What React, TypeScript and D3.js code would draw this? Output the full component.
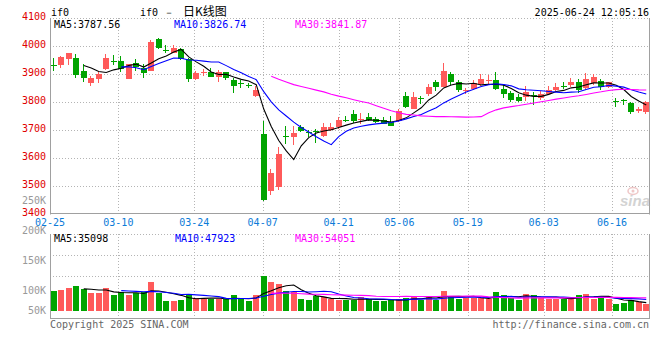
import React from 'react';
import * as d3 from 'd3';

// trading days shown (02-25 .. 06-23)
const dates = [
  '02-25', '02-26', '02-27', '02-28',
  '03-03', '03-04', '03-05', '03-06', '03-07', '03-10', '03-11', '03-12', '03-13', '03-14',
  '03-17', '03-18', '03-19', '03-20', '03-21', '03-24', '03-25', '03-26', '03-27', '03-28', '03-31',
  '04-01', '04-02', '04-03', '04-07', '04-08', '04-09', '04-10', '04-11', '04-14', '04-15', '04-16',
  '04-17', '04-18', '04-21', '04-22', '04-23', '04-24', '04-25', '04-28', '04-29', '04-30',
  '05-06', '05-07', '05-08', '05-09', '05-12', '05-13', '05-14', '05-15', '05-16', '05-19', '05-20',
  '05-21', '05-22', '05-23', '05-26', '05-27', '05-28', '05-29', '05-30',
  '06-03', '06-04', '06-05', '06-06', '06-09', '06-10', '06-11', '06-12', '06-13', '06-16', '06-17',
  '06-18', '06-19', '06-20', '06-23'
];

const opens = [
  3933, 3932, 3954, 3958, 3911, 3869, 3883, 3917, 3945, 3946,
  3883, 3938, 3920, 3912, 4025, 3986, 3976, 3988, 3953, 3882,
  3905, 3906, 3890, 3906, 3879, 3868, 3862, 3823, 3686, 3483,
  3498, 3677, 3674, 3710, 3693, 3697, 3679, 3700, 3710, 3737,
  3757, 3738, 3745, 3739, 3736, 3730, 3733, 3821, 3775, 3814,
  3829, 3873, 3853, 3899, 3870, 3842, 3846, 3864, 3878, 3879,
  3846, 3831, 3819, 3819, 3825, 3815, 3829, 3843, 3858, 3861,
  3873, 3849, 3868, 3875, 3853, 3805, 3806, 3798, 3767, 3764
];
const highs = [
  3956, 3965, 3976, 3971, 3935, 3893, 3906, 3972, 3968, 3964,
  3936, 3954, 3935, 4021, 4030, 4004, 4004, 3993, 3957, 3912,
  3917, 3920, 3914, 3908, 3887, 3879, 3869, 3858, 3733, 3561,
  3638, 3714, 3714, 3718, 3700, 3703, 3726, 3724, 3748, 3750,
  3771, 3760, 3760, 3745, 3745, 3750, 3775, 3837, 3837, 3823,
  3863, 3879, 3938, 3908, 3879, 3851, 3879, 3899, 3896, 3906,
  3861, 3839, 3828, 3858, 3835, 3839, 3857, 3867, 3873, 3885,
  3882, 3905, 3900, 3881, 3873, 3816, 3811, 3799, 3783, 3805
];
const lows = [
  3912, 3922, 3931, 3887, 3872, 3857, 3869, 3916, 3932, 3907,
  3881, 3912, 3887, 3910, 3989, 3976, 3975, 3950, 3873, 3880,
  3893, 3889, 3873, 3879, 3833, 3851, 3851, 3819, 3448, 3468,
  3486, 3650, 3646, 3694, 3676, 3653, 3676, 3696, 3705, 3730,
  3726, 3720, 3732, 3724, 3720, 3715, 3730, 3780, 3775, 3793,
  3823, 3839, 3852, 3861, 3835, 3828, 3843, 3858, 3861, 3843,
  3815, 3801, 3801, 3804, 3789, 3807, 3825, 3837, 3845, 3855,
  3831, 3843, 3861, 3843, 3849, 3783, 3789, 3756, 3762, 3756
];
const closes = [
  3931, 3962, 3975, 3896, 3887, 3887, 3899, 3958, 3943, 3917,
  3935, 3924, 3905, 4015, 3994, 3985, 3992, 3953, 3881, 3905,
  3906, 3890, 3908, 3885, 3858, 3863, 3860, 3843, 3450, 3545,
  3614, 3675, 3688, 3696, 3692, 3696, 3710, 3710, 3736, 3735,
  3733, 3740, 3736, 3730, 3721, 3715, 3768, 3783, 3819, 3812,
  3855, 3853, 3912, 3870, 3843, 3844, 3867, 3881, 3879, 3845,
  3829, 3807, 3804, 3837, 3824, 3828, 3843, 3855, 3857, 3870,
  3843, 3882, 3889, 3855, 3870, 3804, 3805, 3765, 3774, 3799
];
const volumes = [
  88600, 93000, 100500, 110800, 96000, 78300, 78300, 100500, 69500, 82800,
  72600, 78300, 82800, 128500, 79700, 44300, 44300, 48700, 74000, 57600,
  53200, 51800, 51800, 51800, 69500, 51800, 44300, 69500, 153700, 128500,
  118300, 88600, 84200, 51800, 48700, 65100, 62000, 52000, 47400, 47400,
  50400, 62000, 51800, 44300, 44300, 47400, 51800, 57600, 66500, 47400,
  66500, 47400, 88600, 66500, 54800, 57600, 57600, 57600, 51800, 84200,
  69500, 57600, 50400, 74000, 69500, 57600, 53200, 51800, 51800, 59200,
  69500, 77000, 55000, 66500, 55000, 29700, 35400, 47400, 39900, 32800
];

const dateTicks = ['02-25', '03-10', '03-24', '04-07', '04-21', '05-06', '05-19', '06-03', '06-16'];
const priceTicks = [4100, 4000, 3900, 3800, 3700, 3600, 3500, 3400];
const volTicks = [250000, 200000, 150000, 100000, 50000];
const priceMaLabels = ['MA5:3787.56', 'MA10:3826.74', 'MA30:3841.87'];
const volMaLabels = ['MA5:35098', 'MA10:47923', 'MA30:54051'];
const maPeriods = [5, 10, 30];
const maColors = ['#000000', '#0000ff', '#ff00ff'];

const RED = '#ff5a5a';
const GREEN = '#00a400';
const GRID = '#b4b4b4';
const BORDER = '#a0a0a0';
const MONO = '"DejaVu Sans Mono", monospace';

function movingAvg(vals: number[], n: number) {
  return vals.map((_, i) => (i < n - 1 ? null : d3.mean(vals.slice(i - n + 1, i + 1)) as number));
}

export default function App() {
  const W = 660, H = 360;
  const left = 50, right = 650;
  const pTop = 18, pBottom = 214;
  const vTop = 234, vBottom = 318, vBase = 311;

  const xb = d3.scaleBand<string>().domain(dates).range([left, right]).paddingInner(0.2).paddingOuter(0.1);
  // date gridlines are spaced on their own scale (as in the original)
  const xg = d3.scaleLinear().domain([0, dates.length - 1]).range([left, right]);
  const yp = d3.scaleLinear().domain([3400, 4100]).range([pBottom, pTop]);
  const yv = d3.scaleLinear().domain([0, 340000]).range([vBase, vTop]);
  const yvl = d3.scaleLinear().domain([100000, 250000]).range([290, 200]);

  const bw = Math.round(xb.bandwidth());
  const bx = (i: number) => Math.round(xb(dates[i]) as number);
  const cx = (i: number) => (xb(dates[i]) as number) + xb.bandwidth() / 2;

  const priceLines = maPeriods.map(n =>
    d3.line<number | null>().defined(v => v != null).x((_, i) => cx(i)).y(v => yp(v as number))(movingAvg(closes, n)) || '');
  const volLines = maPeriods.map(n =>
    d3.line<number | null>().defined(v => v != null).x((_, i) => cx(i)).y(v => yv(v as number))(movingAvg(volumes, n)) || '');

  const gx = (d: string) => Math.round(xg(dates.indexOf(d))) + 0.5;

  return (
    <svg width={W} height={H} style={{ position: 'absolute', left: 0, top: 0, background: '#fff' }}>
      <rect x={0} y={0} width={W} height={H} fill="#fff" />

      {/* header */}
      <text x={51} y={16} fontFamily={MONO} fontSize={10} fill="#000">if0</text>
      <text x={140} y={16} fontFamily={MONO} fontSize={10} fill="#000">
        <tspan>if0</tspan>
        <tspan x={164}>－</tspan>
        <tspan x={183} fontSize={12} fontFamily='"Noto Sans CJK SC", sans-serif'>日K线图</tspan>
      </text>
      <text x={649} y={16} textAnchor="end" fontFamily={MONO} fontSize={10} fill="#000">2025-06-24 12:05:16</text>

      {/* price grid */}
      {priceTicks.slice(0, -1).map(t => (
        <line key={'pg' + t} x1={left} x2={right} y1={Math.round(yp(t)) + 0.5} y2={Math.round(yp(t)) + 0.5}
          stroke={GRID} strokeDasharray="1,2" />
      ))}
      {dateTicks.slice(1).map(d => (
        <line key={'pv' + d} x1={gx(d)} x2={gx(d)} y1={pTop} y2={pBottom} stroke={GRID} strokeDasharray="1,2" />
      ))}
      <line x1={left + 0.5} x2={left + 0.5} y1={pTop} y2={pBottom + 0.5} stroke={BORDER} />
      <line x1={right - 0.5} x2={right - 0.5} y1={pTop} y2={pBottom + 0.5} stroke={BORDER} />
      <line x1={left} x2={right} y1={pBottom - 0.5} y2={pBottom - 0.5} stroke={BORDER} />

      {/* price labels */}
      {priceTicks.map(t => (
        <text key={'pl' + t} x={46} y={yp(t) + 2} textAnchor="end" fontFamily={MONO} fontSize={10} fill="#e00000">{t}</text>
      ))}
      {volTicks.map(t => (
        <text key={'vl' + t} x={46} y={Math.min(yvl(t), 310) + 3.5} textAnchor="end" fontFamily={MONO} fontSize={10} fill="#999">
          {t / 1000 + 'K'}
        </text>
      ))}
      {dateTicks.map(d => (
        <text key={'dl' + d} x={xg(dates.indexOf(d))} y={225.5} textAnchor="middle" fontFamily={MONO} fontSize={10} fill="#0b7bd8">{d}</text>
      ))}

      {/* watermark */}
      <g opacity={0.55}>
        <ellipse cx={633} cy={191} rx={5} ry={3.5} fill="none" stroke="#e29a9a" strokeWidth={1.5} />
        <circle cx={633} cy={191} r={1.5} fill="#e29a9a" />
        <text x={620} y={206} fontFamily="Arial, sans-serif" fontStyle="italic" fontWeight="bold" fontSize={15} fill="#b0b0b0">sina</text>
      </g>

      {/* candles */}
      {dates.map((d, i) => {
        const up = closes[i] >= opens[i];
        const col = up ? RED : GREEN;
        const top = Math.round(yp(Math.max(opens[i], closes[i])));
        const bot = Math.round(yp(Math.min(opens[i], closes[i])));
        const x = bx(i);
        return (
          <g key={'c' + d}>
            <line x1={x + 2.5} x2={x + 2.5} y1={Math.round(yp(highs[i]))} y2={Math.round(yp(lows[i]))} stroke={col} />
            <rect x={x} y={top} width={bw} height={Math.max(1, bot - top)} fill={col} />
          </g>
        );
      })}

      {/* price MAs */}
      {priceLines.map((p, k) => (
        <path key={'pm' + k} d={p} fill="none" stroke={maColors[k]} strokeWidth={1.1} />
      ))}
      {priceMaLabels.map((s, k) => (
        <text key={'pml' + k} x={[54, 174, 295][k]} y={27.5} fontFamily={MONO} fontSize={10} fill={maColors[k]}>{s}</text>
      ))}

      {/* volume panel */}
      <line x1={left} x2={right} y1={vTop + 0.5} y2={vTop + 0.5} stroke={GRID} strokeDasharray="1,2" />
      {[255, 276].map(g => (
        <line key={'vg' + g} x1={left} x2={right} y1={g + 0.5} y2={g + 0.5} stroke={GRID} strokeDasharray="1,2" />
      ))}
      {dateTicks.slice(1).map(d => (
        <line key={'vv' + d} x1={gx(d)} x2={gx(d)} y1={vTop} y2={vBottom} stroke={GRID} strokeDasharray="1,2" />
      ))}
      {dates.map((d, i) => {
        const col = closes[i] >= opens[i] ? RED : GREEN;
        const top = Math.round(yv(volumes[i]));
        return <rect key={'v' + d} x={bx(i)} y={top} width={bw} height={vBase - top} fill={col} />;
      })}
      {volLines.map((p, k) => (
        <path key={'vm' + k} d={p} fill="none" stroke={maColors[k]} strokeWidth={1.1} />
      ))}
      <line x1={left + 0.5} x2={left + 0.5} y1={vTop} y2={vBottom + 0.5} stroke={BORDER} />
      <line x1={right - 0.5} x2={right - 0.5} y1={vTop} y2={vBottom + 0.5} stroke={BORDER} />
      <line x1={left} x2={right} y1={vBottom + 0.5} y2={vBottom + 0.5} stroke={BORDER} />
      {volMaLabels.map((s, k) => (
        <text key={'vml' + k} x={[54, 175, 295][k]} y={241.5} fontFamily={MONO} fontSize={10} fill={maColors[k]}>{s}</text>
      ))}

      {/* footer */}
      <text x={50} y={328} fontFamily={MONO} fontSize={10} fill="#666">Copyright 2025 SINA.COM</text>
      <text x={649} y={328} textAnchor="end" fontFamily={MONO} fontSize={10} fill="#666">http://finance.sina.com.cn</text>
    </svg>
  );
}
